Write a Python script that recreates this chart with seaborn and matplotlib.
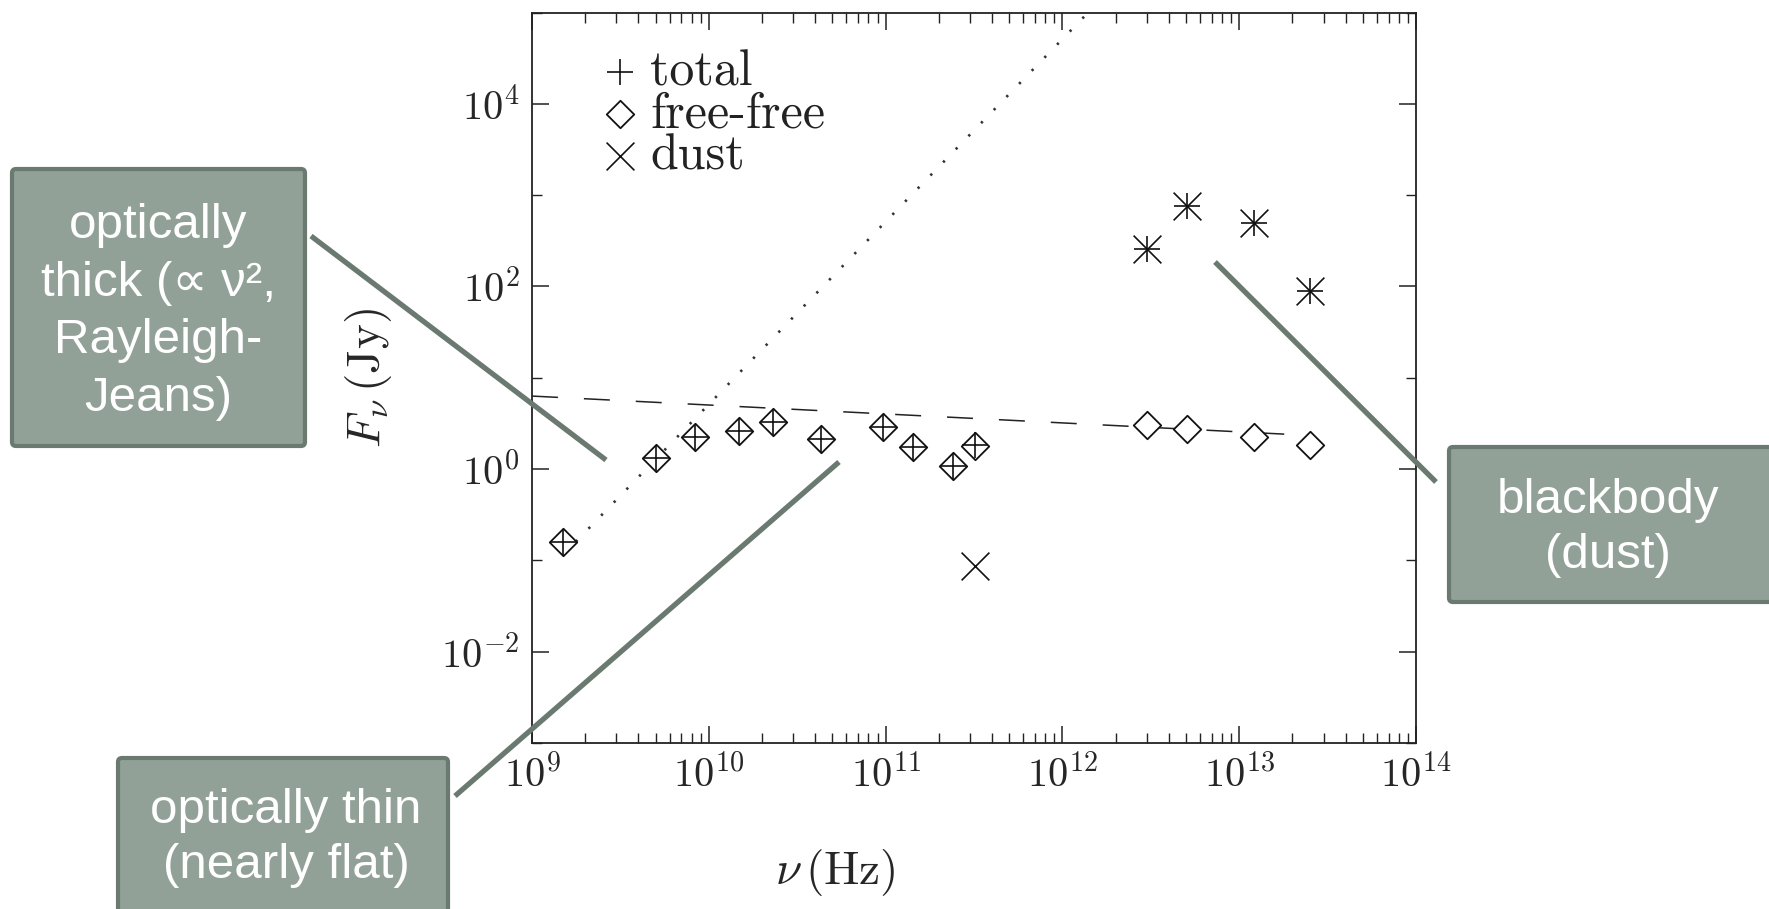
import numpy as np
import pandas as pd
import matplotlib
matplotlib.use("Agg")
import matplotlib.pyplot as plt
import seaborn as sns
from matplotlib.lines import Line2D
from matplotlib.patches import FancyBboxPatch
from matplotlib.transforms import IdentityTransform
from matplotlib.ticker import LogLocator, FuncFormatter, NullFormatter

# ---------------- data ----------------
nu_total = [1.5e9, 5.0e9, 8.4e9, 1.49e10, 2.3e10, 4.3e10, 9.7e10, 1.43e11, 2.4e11, 3.2e11,
            3.0e12, 5.1e12, 1.21e13, 2.5e13]
F_total = [0.16, 1.31, 2.26, 2.63, 3.3, 2.13, 2.9, 1.73, 1.08, 1.85,
           255, 760, 490, 90]
F_freefree = [0.16, 1.31, 2.26, 2.63, 3.3, 2.13, 2.9, 1.73, 1.08, 1.79,
              3.0, 2.77, 2.22, 1.85]
nu_dust = [3.2e11, 3.0e12, 5.1e12, 1.21e13, 2.5e13]
F_dust = [0.087, 255, 760, 490, 90]
# model curves (end points)
nu_thin = [1.0e9, 1.9e13]
F_thin = [6.3, 2.4]
nu_thick = [1.5e9, 1.5e12]
F_thick = [0.115, 1.15e5]

W, H = 1769, 909
sns.set_style("ticks")
plt.rcParams["mathtext.fontset"] = "cm"
plt.rcParams["font.family"] = ["DejaVu Sans"]

fig = plt.figure(figsize=(W / 100, H / 100), dpi=100)
fig.patch.set_facecolor("white")

ax_l, ax_r, ax_t, ax_b = 532, 1416, 12.5, 743
ax = fig.add_axes([ax_l / W, 1 - ax_b / H, (ax_r - ax_l) / W, (ax_b - ax_t) / H])
ax.set_xscale("log")
ax.set_yscale("log")

df_thin = pd.DataFrame({"nu": nu_thin, "F": F_thin})
df_thick = pd.DataFrame({"nu": nu_thick, "F": F_thick})
sns.lineplot(data=df_thin, x="nu", y="F", ax=ax, color="#222222", lw=1.1,
             estimator=None, sort=True)
ax.lines[-1].set_linestyle((0, (17, 17)))
sns.lineplot(data=df_thick, x="nu", y="F", ax=ax, color="#333333", lw=1.9,
             estimator=None, sort=True)
ax.lines[-1].set_linestyle((0, (0.9, 6.0)))

df_tot = pd.DataFrame({"nu": nu_total, "F": F_total})
df_ff = pd.DataFrame({"nu": nu_total, "F": F_freefree})
df_dust = pd.DataFrame({"nu": nu_dust, "F": F_dust})

sns.scatterplot(data=df_tot, x="nu", y="F", ax=ax, marker="+", s=19 ** 2,
                color="#111111", linewidth=1.2, label="total", zorder=4)
sns.scatterplot(data=df_ff, x="nu", y="F", ax=ax, marker="D", s=14 ** 2,
                facecolors="white", edgecolor="#111111", linewidth=1.3,
                label="free-free", zorder=3)
sns.scatterplot(data=df_dust, x="nu", y="F", ax=ax, marker="x", s=20 ** 2,
                color="#111111", linewidth=1.2, label="dust", zorder=4)

ax.set_xlim(1e9, 1e14)
ax.set_ylim(1e-3, 1e5)

ax.xaxis.set_major_locator(LogLocator(base=10, numticks=20))
ax.xaxis.set_minor_locator(LogLocator(base=10, subs=np.arange(2, 10), numticks=20))
ax.yaxis.set_major_locator(LogLocator(base=100, numticks=20))
ax.yaxis.set_minor_locator(LogLocator(base=100, subs=[10.0], numticks=20))
fmt = FuncFormatter(lambda v, p: r"$10^{%d}$" % int(round(np.log10(v))))
ax.xaxis.set_major_formatter(fmt)
ax.yaxis.set_major_formatter(fmt)
ax.xaxis.set_minor_formatter(NullFormatter())
ax.yaxis.set_minor_formatter(NullFormatter())

ax.tick_params(which="both", direction="in", top=True, right=True, color="#222222")
ax.tick_params(which="major", length=12, width=1.1, labelsize=29, pad=9)
ax.tick_params(which="minor", length=7, width=1.0)
for s in ax.spines.values():
    s.set_linewidth(1.3)
    s.set_color("#222222")

ax.set_xlabel(r"$\nu\,\mathrm{(Hz)}$", fontsize=34)
ax.xaxis.set_label_coords((835 - ax_l) / (ax_r - ax_l), -(872 - ax_b) / (ax_b - ax_t))
ax.xaxis.label.set_va("center")
ax.set_ylabel(r"$F_\nu\,\mathrm{(Jy)}$", fontsize=34, labelpad=34)

leg = ax.legend(loc="upper left", bbox_to_anchor=(0.035, 0.997), frameon=False,
                prop={"family": "cmr10", "size": 36}, handletextpad=0.15,
                labelspacing=-0.08, borderpad=0.2, handlelength=0.9)
for t in leg.get_texts():
    t.set_color("#222222")

# ---------------- annotations (figure pixels, top-left origin) ----------------
box_fc = "#92a198"
box_ec = "#6b7a70"
ident = IdentityTransform()


def add_box(x0, y0, x1, y1):
    p = FancyBboxPatch((x0, H - y1), x1 - x0, y1 - y0,
                       boxstyle="round,pad=0,rounding_size=4",
                       transform=ident, facecolor=box_fc, edgecolor=box_ec,
                       linewidth=3.0, zorder=5)
    fig.add_artist(p)


def add_line(x0, y0, x1, y1):
    fig.add_artist(Line2D([x0, x1], [H - y0, H - y1], transform=ident,
                          color=box_ec, linewidth=3.8, solid_capstyle="butt",
                          zorder=6))


txt_kw = dict(color="white", fontsize=35.5, ha="center", va="center",
              family=["Liberation Sans", "DejaVu Sans"], zorder=7)

add_box(12, 169, 305, 446)
fig.text(158 / W, 1 - 312 / H, "optically\nthick (\u221d \u03bd\u00b2,\nRayleigh-\nJeans)",
         linespacing=1.37, **txt_kw)
add_line(311, 236, 606, 460)

add_box(118, 758, 448, 940)
fig.text(286 / W, 1 - 838 / H, "optically thin\n(nearly flat)", linespacing=1.3, **txt_kw)
add_line(455, 796, 839, 462)

add_box(1449, 447, 1800, 602)
fig.text(1608 / W, 1 - 528 / H, "blackbody\n(dust)", linespacing=1.3, **txt_kw)
add_line(1215, 262, 1436, 482)

fig.savefig("out.png", dpi=100, facecolor="white")
